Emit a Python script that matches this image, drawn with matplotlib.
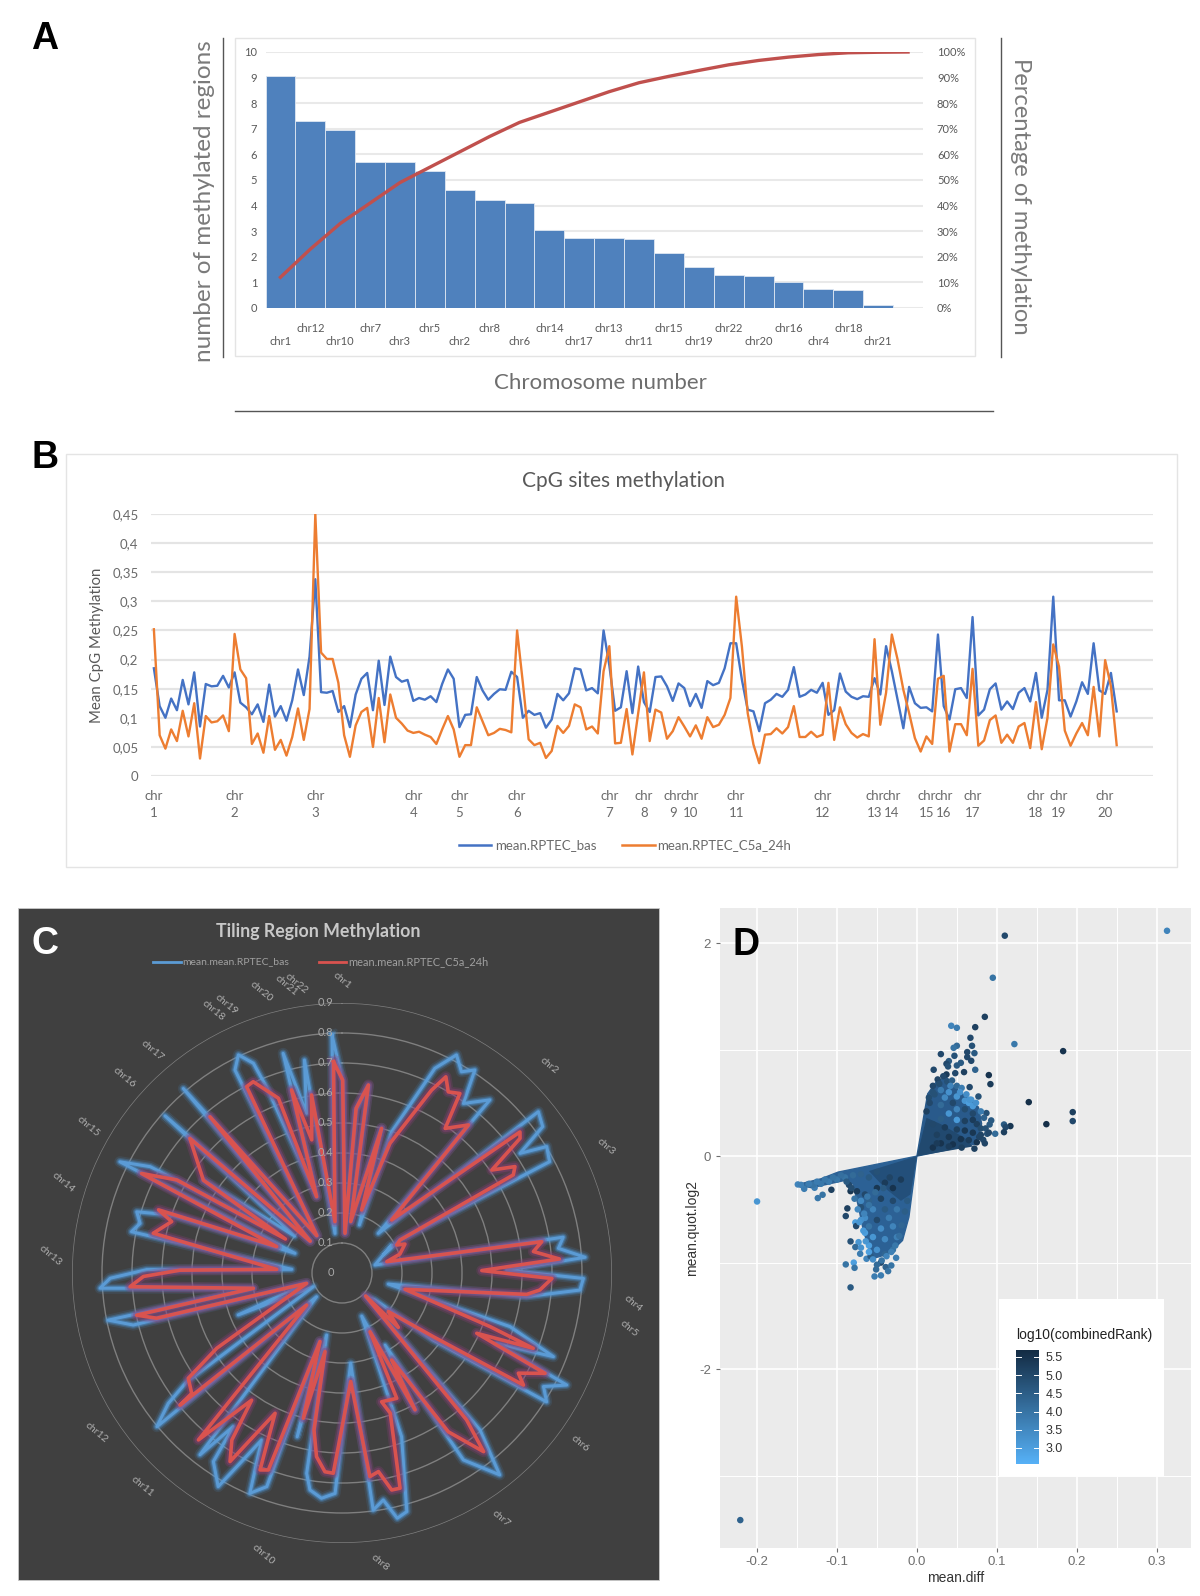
import numpy as np
import matplotlib
matplotlib.use('Agg')
import matplotlib.pyplot as plt
from matplotlib.colors import LinearSegmentedColormap, Normalize
from matplotlib.lines import Line2D
from matplotlib.patches import Rectangle

W, H = 1200, 1596

# panel A
pareto_chr = ['chr1', 'chr12', 'chr10', 'chr7', 'chr3', 'chr5', 'chr2', 'chr8', 'chr6', 'chr14', 'chr17',
              'chr13', 'chr11', 'chr15', 'chr19', 'chr22', 'chr20', 'chr16', 'chr4', 'chr18', 'chr21', '']
pareto_count = [9.05, 7.3, 6.95, 5.7, 5.7, 5.35, 4.6, 4.2, 4.1, 3.05, 2.75,
                2.75, 2.7, 2.15, 1.6, 1.3, 1.25, 1.0, 0.75, 0.72, 0.1, 0]
pareto_cum = [12, 23, 33, 41, 49, 55, 61, 67, 72.5, 76.5, 80.5,
              84.5, 88, 90.5, 92.8, 95, 96.7, 98, 99, 99.7, 99.9, 100]

# panel B
cpg_bas = [0.185, 0.12, 0.10, 0.133, 0.113, 0.165, 0.123, 0.178, 0.085, 0.158, 0.154, 0.155, 0.172, 0.152,
           0.178, 0.126, 0.118, 0.106, 0.123, 0.093, 0.157, 0.102, 0.12, 0.095, 0.13, 0.183, 0.139, 0.205,
           0.338, 0.144, 0.143, 0.146, 0.11, 0.12, 0.084, 0.14, 0.167, 0.177, 0.113, 0.198, 0.122, 0.205,
           0.17, 0.162, 0.165, 0.129, 0.134, 0.131, 0.137, 0.127, 0.158, 0.183, 0.167, 0.084, 0.105, 0.106,
           0.17, 0.147, 0.131, 0.141, 0.149, 0.148, 0.179, 0.17, 0.1, 0.112, 0.105, 0.108, 0.083, 0.097,
           0.141, 0.13, 0.142, 0.185, 0.183, 0.147, 0.151, 0.142, 0.25, 0.19, 0.112, 0.118, 0.18, 0.108,
           0.188, 0.127, 0.11, 0.17, 0.171, 0.154, 0.129, 0.159, 0.151, 0.12, 0.141, 0.117, 0.163, 0.156,
           0.16, 0.185, 0.228, 0.228, 0.165, 0.114, 0.111, 0.077, 0.125, 0.131, 0.141, 0.136, 0.148, 0.187,
           0.136, 0.14, 0.148, 0.143, 0.16, 0.105, 0.113, 0.176, 0.145, 0.136, 0.132, 0.137, 0.136, 0.168,
           0.14, 0.223, 0.18, 0.131, 0.082, 0.153, 0.125, 0.117, 0.118, 0.111, 0.243, 0.12, 0.097, 0.149,
           0.151, 0.134, 0.273, 0.104, 0.114, 0.149, 0.159, 0.114, 0.128, 0.115, 0.143, 0.151, 0.128, 0.177,
           0.1, 0.148, 0.308, 0.13, 0.13, 0.102, 0.128, 0.161, 0.141, 0.228, 0.147, 0.141, 0.177, 0.111]
cpg_c5a = [0.252, 0.07, 0.047, 0.08, 0.06, 0.112, 0.068, 0.125, 0.03, 0.103, 0.092, 0.094, 0.104, 0.077,
           0.244, 0.183, 0.168, 0.055, 0.073, 0.04, 0.103, 0.045, 0.062, 0.035, 0.067, 0.116, 0.062, 0.115,
           0.45, 0.212, 0.201, 0.201, 0.16, 0.07, 0.033, 0.087, 0.11, 0.117, 0.05, 0.134, 0.058, 0.14,
           0.1, 0.09, 0.078, 0.074, 0.076, 0.071, 0.067, 0.055, 0.08, 0.103, 0.08, 0.033, 0.053, 0.053,
           0.118, 0.094, 0.07, 0.074, 0.081, 0.079, 0.075, 0.25, 0.16, 0.063, 0.053, 0.057, 0.031, 0.043,
           0.086, 0.074, 0.086, 0.123, 0.118, 0.08, 0.085, 0.073, 0.18, 0.223, 0.056, 0.057, 0.115, 0.037,
           0.108, 0.178, 0.06, 0.114, 0.109, 0.064, 0.077, 0.101, 0.085, 0.068, 0.087, 0.064, 0.101, 0.084,
           0.088, 0.105, 0.134, 0.308, 0.222, 0.108, 0.054, 0.022, 0.071, 0.072, 0.082, 0.073, 0.084, 0.12,
           0.067, 0.067, 0.076, 0.067, 0.071, 0.16, 0.062, 0.118, 0.089, 0.074, 0.066, 0.072, 0.068, 0.235,
           0.088, 0.143, 0.243, 0.2, 0.148, 0.108, 0.065, 0.042, 0.068, 0.055, 0.167, 0.172, 0.042, 0.089,
           0.089, 0.07, 0.184, 0.052, 0.061, 0.096, 0.104, 0.057, 0.071, 0.057, 0.085, 0.091, 0.048, 0.127,
           0.046, 0.1, 0.226, 0.188, 0.078, 0.052, 0.073, 0.091, 0.07, 0.153, 0.068, 0.199, 0.154, 0.053]
cpg_chr_idx = [0, 14, 28, 45, 53, 63, 79, 85, 90, 93, 101, 116, 125, 128, 134, 137, 142, 153, 157, 165]
cpg_chr_num = ['1', '2', '3', '4', '5', '6', '7', '8', '9', '10', '11', '12', '13', '14', '15', '16', '17',
               '18', '19', '20']
cpg_ticks = [0, 0.05, 0.1, 0.15, 0.2, 0.25, 0.3, 0.35, 0.4, 0.45]
cpg_ticklabels = ['0', '0,05', '0,1', '0,15', '0,2', '0,25', '0,3', '0,35', '0,4', '0,45']

# panel C, angle in degrees clockwise from the top
tiling_bas_ang = [-2.4, 0.2, 4.3, 4.9, 8.0, 9.6, 15.3, 19.9, 19.4, 24.4, 27.7, 30.7, 33.2, 35.6, 40.5, 42.5,
                  50.6, 53.9, 56.1, 58.3, 61.8, 60.4, 66.5, 60.6, 76.4, 80.8, 83.5, 86.3, 89, 91.3, 94.1,
                  97.3, 103.4, 107.7, 111.6, 114.5, 116.5, 119.4, 122.2, 126.3, 129.3, 134.2, 138.7, 142,
                  147, 149.2, 151.9, 155.4, 160, 164.8, 167.3, 169.7, 172.5, 174.5, 181.8, 185.2, 188.4,
                  190, 193.9, 195.3, 197.8, 199.4, 202.7, 205.7, 210.1, 214.3, 215.3, 218, 227, 230.3,
                  233.1, 235, 244.5, 248, 253.7, 256, 258.6, 260.2, 266.4, 268.7, 271, 274.2, 281.1, 283.8,
                  286.6, 288.8, 292.7, 296.6, 299, 301.7, 303.8, 308, 311.6, 315, 319.3, 326, 332.2, 334.6,
                  337.1, 338, 341.6, 345, 347.5, 350, 350]
tiling_bas_val = [0.794, 0.638, 0.133, 0.545, 0.63, 0.174, 0.5, 0.17, 0.499, 0.749, 0.821, 0.78, 0.809, 0.695,
                  0.759, 0.179, 0.847, 0.828, 0.715, 0.802, 0.785, 0.222, 0.15, 0.19, 0.113, 0.747, 0.726,
                  0.812, 0.549, 0.805, 0.795, 0.62, 0.159, 0.588, 0.758, 0.566, 0.837, 0.771, 0.806, 0.378,
                  0.142, 0.11, 0.697, 0.854, 0.743, 0.28, 0.517, 0.158, 0.581, 0.824, 0.838, 0.769, 0.797,
                  0.302, 0.735, 0.754, 0.731, 0.678, 0.213, 0.566, 0.24, 0.755, 0.796, 0.618, 0.823, 0.761,
                  0.627, 0.769, 0.116, 0.802, 0.724, 0.632, 0.106, 0.373, 0.123, 0.717, 0.795, 0.30, 0.808,
                  0.773, 0.651, 0.168, 0.715, 0.693, 0.714, 0.6, 0.17, 0.828, 0.731, 0.262, 0.556, 0.2, 0.789,
                  0.15, 0.811, 0.15, 0.765, 0.805, 0.759, 0.658, 0.268, 0.758, 0.545, 0.721, 0.134]
tiling_c5a_ang = [-2.3, 0.2, 4.3, 4.9, 8.0, 9.6, 15.3, 17.3, 20.3, 26.1, 27.9, 30.4, 33.3, 35.5, 40.5, 43.1,
                  51.6, 52.9, 55.5, 58.4, 60.2, 60.4, 62.9, 65.3, 71.9, 75.8, 81.1, 83.6, 86.3, 89, 91.5,
                  94.9, 96.6, 104.5, 109.9, 111.5, 114.1, 116.3, 119.6, 121.7, 124.9, 129.8, 134, 134.2,
                  139.7, 141.6, 146.2, 150.3, 151.9, 154.5, 156.4, 162.9, 161, 164.9, 167.1, 169.6, 172.2,
                  175.4, 182.5, 184.9, 187.9, 190.1, 192.2, 194.9, 197.8, 200.5, 202.6, 205.5, 210.7, 213.4,
                  215.4, 220.7, 227.8, 230.8, 231.3, 235.6, 239, 253.7, 256.3, 258.4, 260.2, 266.3, 269, 271,
                  273.2, 281.9, 286.8, 289, 292, 296.4, 299.4, 301, 303.8, 311.5, 315, 319.8, 326, 332.9,
                  335.1, 340, 341.6, 344.6, 347.2, 350.3, 352.2]
tiling_c5a_val = [0.705, 0.643, 0.133, 0.551, 0.633, 0.174, 0.5, 0.22, 0.461, 0.679, 0.74, 0.70, 0.716, 0.592,
                  0.649, 0.242, 0.757, 0.744, 0.606, 0.677, 0.658, 0.222, 0.205, 0.231, 0.203, 0.154, 0.674,
                  0.642, 0.726, 0.466, 0.70, 0.662, 0.62, 0.217, 0.525, 0.685, 0.492, 0.755, 0.676, 0.711,
                  0.371, 0.201, 0.261, 0.11, 0.642, 0.76, 0.637, 0.334, 0.517, 0.217, 0.456, 0.449, 0.494,
                  0.743, 0.742, 0.673, 0.685, 0.363, 0.668, 0.665, 0.618, 0.532, 0.268, 0.501, 0.24, 0.701,
                  0.711, 0.518, 0.731, 0.667, 0.52, 0.734, 0.159, 0.697, 0.642, 0.621, 0.487, 0.123, 0.636,
                  0.699, 0.30, 0.708, 0.662, 0.54, 0.218, 0.643, 0.593, 0.647, 0.235, 0.746, 0.632, 0.22,
                  0.556, 0.677, 0.15, 0.682, 0.15, 0.698, 0.703, 0.62, 0.268, 0.633, 0.455, 0.602, 0.173]
tiling_levels = [0.1, 0.2, 0.3, 0.4, 0.5, 0.6, 0.7, 0.8, 0.9]
tiling_chr = ['chr1', 'chr2', 'chr3', 'chr4', 'chr5', 'chr6', 'chr7', 'chr8', 'chr10', 'chr11', 'chr12', 'chr13',
              'chr14', 'chr15', 'chr16', 'chr17', 'chr18', 'chr19', 'chr20', 'chr21', 'chr22']
tiling_chr_ang = [0, 45, 64.4, 96, 101, 125.6, 147, 172.5, 195.7, 223, 237, 273.5,
                  288, 300, 312, 319.5, 334, 336.8, 344, 349, 351]

# panel D, wedges behind the single dots
wedge_up_x = [0, 0.0135, 0.024, 0.037, 0.047, 0.062, 0.077, 0.081, 0.075]
wedge_up_y = [0, 0.585, 0.695, 0.742, 0.648, 0.554, 0.46, 0.304, 0.116]
wedge_dn_x = [0, -0.0986, -0.12, -0.149, -0.132, -0.09, -0.08, -0.073, -0.067, -0.056, -0.035, -0.018, -0.01]
wedge_dn_y = [0, -0.15, -0.213, -0.266, -0.297, -0.228, -0.26, -0.479, -0.698, -0.964, -0.917, -0.792, -0.573]
core_up_x = [0, 0.012, 0.03, 0.06, 0.07]
core_up_y = [0, 0.36, 0.3, 0.17, 0.09]
core_dn_x = [0, -0.06, -0.04, -0.02, -0.008]
core_dn_y = [0, -0.14, -0.3, -0.42, -0.36]

dots_x = [0.313, 0.11, 0.095, 0.085, 0.073, 0.043, 0.05, 0.067, 0.069, 0.05, 0.046, 0.122, 0.183, 0.063, 0.072,
          0.03, 0.047, 0.063, 0.04, 0.068, 0.055, 0.037, 0.05, 0.039, 0.021, 0.073, 0.059, 0.09, 0.048, 0.037,
          0.092, 0.066, 0.077, 0.14, 0.195, 0.195, 0.162, 0.087, 0.093, 0.091, 0.109, 0.117, 0.111, 0.109,
          0.098, 0.088, 0.083,
          -0.2, -0.149, -0.141, -0.136, -0.124, -0.118, -0.128, -0.107, -0.083, -0.087, -0.089, -0.077, -0.076,
          -0.083, -0.073, -0.077, -0.071, -0.089, -0.079, -0.078, -0.063, -0.051, -0.053, -0.045, -0.039,
          -0.036, -0.032, -0.026, -0.083, -0.221,
          0.02, 0.03, 0.035, 0.04, 0.05, 0.06, 0.065, 0.07, 0.045, 0.03, 0.05, 0.06, 0.07, 0.04, 0.03, 0.05,
          0.06, 0.07, 0.075, 0.02, 0.035, 0.05, 0.06, 0.07, 0.08, 0.025, 0.04, 0.055, 0.065, 0.075, 0.03,
          0.045, 0.02,
          -0.075, -0.065, -0.05, -0.04, -0.03, -0.02, -0.06, -0.045, -0.03, -0.07, -0.055, -0.04, -0.025,
          -0.065, -0.05, -0.035, -0.06, -0.045, -0.03, -0.065, -0.055, -0.04, -0.025, -0.06, -0.05, -0.04,
          -0.03, -0.07, -0.058, -0.045, -0.10, -0.11, -0.12, -0.13, -0.09, -0.08, -0.07, -0.085, -0.06, -0.05,
          # denser rows along the wedge rims
          0.015, 0.02, 0.026, 0.033, 0.038, 0.044, 0.05, 0.056, 0.062, 0.068, 0.074, 0.08, 0.084, 0.08, 0.078,
          0.012, 0.016, 0.022, 0.028, 0.042, 0.054, 0.066, 0.025, 0.04, 0.056, 0.072, 0.086, 0.09, 0.085,
          -0.145, -0.135, -0.125, -0.115, -0.105, -0.095, -0.088, -0.082, -0.078, -0.074, -0.07, -0.067, -0.064,
          -0.06, -0.055, -0.05, -0.044, -0.038, -0.032, -0.027, -0.022, -0.019, -0.015, -0.012, -0.07, -0.062,
          -0.052, -0.042, -0.034, -0.072, -0.066, -0.06]
dots_y = [2.116, 2.07, 1.675, 1.308, 1.211, 1.224, 1.205, 1.111, 1.036, 1.036, 1.017, 1.052, 0.986, 0.977, 0.967,
          0.958, 0.942, 0.93, 0.892, 0.895, 0.876, 0.867, 0.851, 0.842, 0.811, 0.811, 0.789, 0.761, 0.779, 0.767,
          0.676, 0.648, 0.56, 0.507, 0.413, 0.329, 0.3, 0.404, 0.335, 0.297, 0.297, 0.282, 0.272, 0.225,
          0.21, 0.21, 0.153,
          -0.426, -0.266, -0.307, -0.266, -0.394, -0.363, -0.297, -0.316, -0.329, -0.491, -0.563, -0.623, -0.657,
          -0.801, -0.808, -0.854, -0.917, -1.017, -1.0, -1.049, -0.964, -1.064, -1.13, -1.12, -1.042,
          -1.08, -1.027, -0.955, -1.233, -3.418,
          0.60, 0.62, 0.55, 0.60, 0.56, 0.52, 0.50, 0.47, 0.50, 0.48, 0.44, 0.44, 0.40, 0.40, 0.35, 0.34,
          0.33, 0.34, 0.30, 0.30, 0.27, 0.25, 0.24, 0.22, 0.20, 0.20, 0.18, 0.16, 0.15, 0.13, 0.12,
          0.11, 0.08,
          -0.33, -0.36, -0.30, -0.25, -0.30, -0.22, -0.42, -0.40, -0.42, -0.48, -0.50, -0.50, -0.50,
          -0.58, -0.60, -0.58, -0.66, -0.68, -0.66, -0.72, -0.76, -0.78, -0.76, -0.84, -0.88, -0.92,
          -0.88, -0.86, -0.94, -1.0, -0.22, -0.24, -0.26, -0.27, -0.20, -0.18, -0.17, -0.27, -0.2, -0.15,
          0.55, 0.66, 0.72, 0.75, 0.70, 0.71, 0.66, 0.64, 0.58, 0.53, 0.50, 0.42, 0.36, 0.26, 0.18,
          0.42, 0.5, 0.58, 0.68, 0.66, 0.60, 0.53, 0.12, 0.09, 0.08, 0.07, 0.26, 0.22, 0.12,
          -0.27, -0.26, -0.24, -0.22, -0.2, -0.18, -0.24, -0.30, -0.40, -0.50, -0.60, -0.70, -0.80,
          -0.90, -0.97, -1.02, -0.98, -0.94, -0.90, -0.84, -0.75, -0.65, -0.52, -0.42, -0.42, -0.38,
          -0.34, -0.30, -0.2, -0.62, -0.54, -0.46]
dots_rank = [3.6, 5.0, 4.0, 5.2, 5.2, 3.6, 3.8, 5.0, 4.8, 4.2, 4.0, 3.9, 5.5, 5.0, 4.6,
             5.0, 4.8, 5.0, 4.6, 5.0, 4.6, 5.0, 4.6, 4.8, 5.0, 4.4, 5.2, 5.5, 5.0, 5.3,
             5.3, 5.0, 4.8, 5.6, 5.2, 5.0, 5.6, 4.8, 4.6, 4.6, 4.6, 5.4, 5.0, 5.2,
             4.2, 4.8, 5.0,
             3.2, 3.6, 3.8, 4.0, 3.9, 4.0, 3.8, 5.2, 5.4, 5.2, 5.0, 3.0, 5.0,
             4.8, 3.2, 4.2, 3.8, 4.0, 3.0, 4.0, 3.6, 4.2, 3.8, 3.8, 4.4,
             4.0, 4.0, 3.8, 4.6, 4.4,
             4.8, 3.8, 3.5, 3.3, 3.2, 3.2, 3.0, 3.1, 5.0, 4.2, 3.6, 4.9, 5.0, 3.2, 4.5, 3.1,
             5.2, 5.3, 5.2, 5.0, 5.3, 5.2, 5.4, 5.4, 5.1, 5.2, 5.4, 5.5, 5.3, 5.5, 5.5,
             5.5, 5.5,
             5.3, 5.0, 5.4, 5.3, 5.5, 5.3, 4.4, 5.2, 5.0, 4.8, 3.6, 4.6, 3.9,
             3.4, 5.0, 3.8, 4.0, 3.4, 3.6, 3.0, 3.2, 3.5, 3.7, 3.0, 3.3, 4.3,
             4.0, 3.3, 4.6, 5.0, 3.9, 3.8, 3.9, 4.0, 4.0, 4.2, 4.4, 5.0, 4.6, 4.8,
             4.9, 5.0, 5.1, 5.0, 4.8, 4.5, 4.2, 3.8, 3.4, 3.2, 3.3, 3.8, 4.4, 4.9, 5.1,
             5.2, 5.0, 4.8, 4.9, 3.6, 3.3, 3.2, 5.3, 5.3, 5.2, 5.2, 4.8, 5.0, 5.1,
             3.7, 3.8, 3.8, 3.9, 4.0, 4.1, 4.6, 4.9, 4.0, 3.5, 3.3, 3.1, 3.2,
             3.0, 3.4, 4.2, 4.0, 3.6, 3.7, 3.9, 4.1, 4.3, 4.5, 4.6, 3.5, 3.9,
             4.2, 4.6, 5.1, 3.2, 3.6, 4.0]
rank_ticks = [3.0, 3.5, 4.0, 4.5, 5.0, 5.5]

plt.rcParams['font.family'] = ['Lato', 'DejaVu Sans']
fig = plt.figure(figsize=(W / 100, H / 100), dpi=100, facecolor='white')


def px_axes(x0, y0, x1, y1, **kw):
    return fig.add_axes([x0 / W, 1 - y1 / H, (x1 - x0) / W, (y1 - y0) / H], **kw)


def px_text(x, y, s, **kw):
    kw.setdefault('ha', 'center')
    kw.setdefault('va', 'center')
    return fig.text(x / W, 1 - y / H, s, **kw)


def px_rect(x0, y0, x1, y1, **kw):
    fig.add_artist(Rectangle((x0 / W, 1 - y1 / H), (x1 - x0) / W, (y1 - y0) / H, transform=fig.transFigure, **kw))


def px_line(x0, y0, x1, y1, **kw):
    fig.add_artist(Line2D([x0 / W, x1 / W], [1 - y0 / H, 1 - y1 / H], transform=fig.transFigure, **kw))


# A: pareto
px_rect(235, 38, 975, 356, facecolor='none', edgecolor='#e4e4e4', linewidth=1)
px_line(223, 38, 223, 357, color='#555555', linewidth=1)
px_line(1001, 38, 1001, 357, color='#555555', linewidth=1)
px_line(235, 411, 993, 411, color='#555555', linewidth=1)
ax = px_axes(265.5, 52, 923, 308)
ax.bar(range(22), pareto_count, width=1.0, color='#4f81bd', edgecolor='#dfe7f2', linewidth=0.6, zorder=2)
ax.set_xlim(-0.5, 21.5)
ax.set_ylim(0, 10)
ax.set_yticks(range(11))
ax.grid(axis='y', color='#e9e9e9', linewidth=1.5, zorder=0)
ax.set_axisbelow(True)
ax.set_xticks(range(22))
ax.set_xticklabels([f'\n{c}' if i % 2 == 0 else f'{c}\n' for i, c in enumerate(pareto_chr)],
                   fontsize=8, color='#595959', linespacing=1.15)
ax.tick_params(axis='both', length=0, labelsize=8, labelcolor='#595959')
ax.tick_params(axis='x', pad=11)
ax.tick_params(axis='y', pad=6)
for s in ax.spines.values():
    s.set_visible(False)
ax2 = ax.twinx()
ax2.plot(range(22), pareto_cum, color='#c0504d', linewidth=2.4, zorder=5)
ax2.set_ylim(0, 100)
ax2.set_yticks(range(0, 101, 10))
ax2.set_yticklabels([f'{v}%' for v in range(0, 101, 10)])
ax2.tick_params(axis='y', length=0, labelsize=8, labelcolor='#595959', pad=10)
for s in ax2.spines.values():
    s.set_visible(False)
px_text(204, 201, 'number of methylated regions', rotation=90, fontsize=17.5, color='#7a7a7a')
px_text(1020, 196, 'Percentage of methylation', rotation=-90, fontsize=17.2, color='#7a7a7a')
px_text(600, 383, 'Chromosome number', fontsize=16, color='#6e6e6e')
px_text(45, 39, 'A', fontsize=27, fontweight='bold', family='Liberation Sans', color='black')

# B: CpG lines
px_rect(66, 454, 1177, 867, facecolor='none', edgecolor='#e4e4e4', linewidth=1)
ax = px_axes(151, 514, 1153, 776)
ax.plot(cpg_bas, color='#4472c4', linewidth=1.7, label='mean.RPTEC_bas')
ax.plot(cpg_c5a, color='#ed7d31', linewidth=1.7, label='mean.RPTEC_C5a_24h')
ax.set_xlim(-0.5, 173.3)
ax.set_ylim(0, 0.45)
ax.set_yticks(cpg_ticks)
ax.set_yticklabels(cpg_ticklabels)
ax.grid(axis='y', color='#e4e4e4', linewidth=1.6)
ax.set_axisbelow(True)
ax.set_xticks(cpg_chr_idx)
ax.set_xticklabels([f'chr\n{n}' for n in cpg_chr_num], linespacing=1.5)
ax.tick_params(axis='both', length=0, labelsize=9.5, labelcolor='#6a6a6a')
ax.tick_params(axis='x', pad=10)
ax.tick_params(axis='y', pad=9)
for s in ax.spines.values():
    s.set_visible(False)
px_text(623, 481, 'CpG sites methylation', fontsize=15, color='#595959')
px_text(97.5, 645, 'Mean CpG Methylation', rotation=90, fontsize=10.8, color='#595959')
px_line(459, 845, 491, 845, color='#4472c4', linewidth=1.8)
px_text(495, 845, 'mean.RPTEC_bas', ha='left', fontsize=9.5, color='#6a6a6a')
px_line(622, 845, 655, 845, color='#ed7d31', linewidth=1.8)
px_text(657, 845, 'mean.RPTEC_C5a_24h', ha='left', fontsize=9.5, color='#6a6a6a')
px_text(45, 458, 'B', fontsize=27, fontweight='bold', family='Liberation Sans', color='black')

# C: radar on dark background
px_rect(18, 908, 659, 1580, facecolor='#404040', edgecolor='#c8c8c8', linewidth=0.6, zorder=-1)
ax = px_axes(72, 1003, 612, 1543, projection='polar')
ax.set_facecolor('none')
ax.set_theta_zero_location('N')
ax.set_theta_direction(-1)
ax.set_ylim(0, 0.9)
ax.set_yticks(tiling_levels)
ax.set_yticklabels([])
ax.set_xticks([])
ax.grid(axis='y', color='#7f7f7f', linewidth=1.0)
ax.grid(axis='x', visible=False)
ax.spines['polar'].set_visible(False)
bas_t = np.radians(tiling_bas_ang + tiling_bas_ang[:1])
bas_r = tiling_bas_val + tiling_bas_val[:1]
c5a_t = np.radians(tiling_c5a_ang + tiling_c5a_ang[:1])
c5a_r = tiling_c5a_val + tiling_c5a_val[:1]
for lw, a in [(8, 0.12), (5.5, 0.25), (3.8, 0.4)]:
    ax.plot(bas_t, bas_r, color='#4f9be0', linewidth=lw, alpha=a, solid_joinstyle='round')
ax.plot(bas_t, bas_r, color='#5b9bd5', linewidth=2.2, solid_joinstyle='round')
for lw, a in [(8, 0.25), (5.5, 0.4)]:
    ax.plot(c5a_t, c5a_r, color='#8d3f7a', linewidth=lw, alpha=a, solid_joinstyle='round')
ax.plot(c5a_t, c5a_r, color='#d9534f', linewidth=2.6, solid_joinstyle='round')
for lev in [0] + tiling_levels:
    ax.annotate(f'{lev:g}', xy=(0, lev), xytext=(-8 if lev == 0 else -12, 0), textcoords='offset points',
                ha='center', va='center', fontsize=8, color='#a8a8a8', annotation_clip=False)
for name, ang in zip(tiling_chr, tiling_chr_ang):
    ax.text(np.radians(ang), 0.975, name, rotation=-40, rotation_mode='anchor', ha='center', va='center',
            fontsize=7.5, color='#b0b0b0', clip_on=False)
px_text(318, 931, 'Tiling Region Methylation', fontsize=12.8, color='#c8c8c8', fontweight='bold')
px_line(153, 962, 181, 962, color='#5b9bd5', linewidth=2)
px_text(182, 962, 'mean.mean.RPTEC_bas', ha='left', fontsize=7.5, color='#a0a0a0')
px_line(319, 962, 346, 962, color='#d9534f', linewidth=2)
px_text(348, 962, 'mean.mean.RPTEC_C5a_24h', ha='left', fontsize=7.9, color='#a0a0a0')
px_text(45, 944, 'C', fontsize=27, fontweight='bold', family='Liberation Sans', color='white')

# D: ggplot style scatter
rank_cmap = LinearSegmentedColormap.from_list('gg_blue', ['#56B1F7', '#132B43'])
rank_norm = Normalize(2.56, 5.69)
ax = px_axes(719.5, 908, 1191, 1548)
ax.set_facecolor('#ebebeb')
ax.set_xlim(-0.247, 0.343)
ax.set_ylim(-3.68, 2.33)
ax.set_xticks([-0.2, -0.1, 0, 0.1, 0.2, 0.3])
ax.set_xticklabels(['-0.2', '-0.1', '0.0', '0.1', '0.2', '0.3'], family='Liberation Sans')
ax.set_yticks([-2, 0, 2])
ax.set_yticklabels(['-2', '0', '2'], family='Liberation Sans')
ax.set_xticks([-0.15, -0.05, 0.05, 0.15, 0.25], minor=True)
ax.set_yticks([-3, -1, 1], minor=True)
ax.grid(which='major', color='white', linewidth=1.2)
ax.grid(which='minor', color='white', linewidth=0.7)
ax.set_axisbelow(True)
ax.tick_params(axis='both', which='major', length=3, color='#6e6e6e', labelsize=9.5, labelcolor='#6e6e6e', pad=3)
ax.tick_params(axis='both', which='minor', length=0)
for s in ax.spines.values():
    s.set_visible(False)
ax.fill(wedge_up_x, wedge_up_y, color='#295a8b', linewidth=1, zorder=2)
ax.fill(wedge_dn_x, wedge_dn_y, color='#2c6195', linewidth=1, zorder=2)
ax.fill(core_up_x, core_up_y, color='#21496f', linewidth=0, zorder=2)
ax.fill(core_dn_x, core_dn_y, color='#234f7a', linewidth=0, zorder=2)
ax.scatter(dots_x, dots_y, c=dots_rank, cmap=rank_cmap, norm=rank_norm, s=22, linewidths=0, zorder=3)
px_rect(999, 1299, 1164, 1476, facecolor='white', edgecolor='none', zorder=5)
px_text(1016, 1335, 'log10(combinedRank)', ha='left', fontsize=10, family='Liberation Sans', color='#222222', zorder=6)
cax = px_axes(1016, 1350, 1039, 1464, zorder=6)
cb = fig.colorbar(plt.cm.ScalarMappable(norm=rank_norm, cmap=rank_cmap), cax=cax)
cb.outline.set_visible(False)
cb.set_ticks(rank_ticks)
cb.set_ticklabels([f'{v:.1f}' for v in rank_ticks], family='Liberation Sans')
cax.tick_params(axis='y', length=0, labelsize=9, labelcolor='#333333', pad=5)
cax.set_xticks([])
for v in rank_ticks:
    cax.plot([0, 0.22], [v, v], color='white', linewidth=0.7, transform=cax.get_yaxis_transform())
    cax.plot([0.78, 1], [v, v], color='white', linewidth=0.7, transform=cax.get_yaxis_transform())
px_text(956, 1578, 'mean.diff', fontsize=10, family='Liberation Sans', color='#333333')
px_text(692, 1228, 'mean.quot.log2', rotation=90, fontsize=10, family='Liberation Sans', color='#333333')
px_text(746, 945, 'D', fontsize=27, fontweight='bold', family='Liberation Sans', color='black')

fig.savefig('out.png', dpi=100, facecolor='white')
